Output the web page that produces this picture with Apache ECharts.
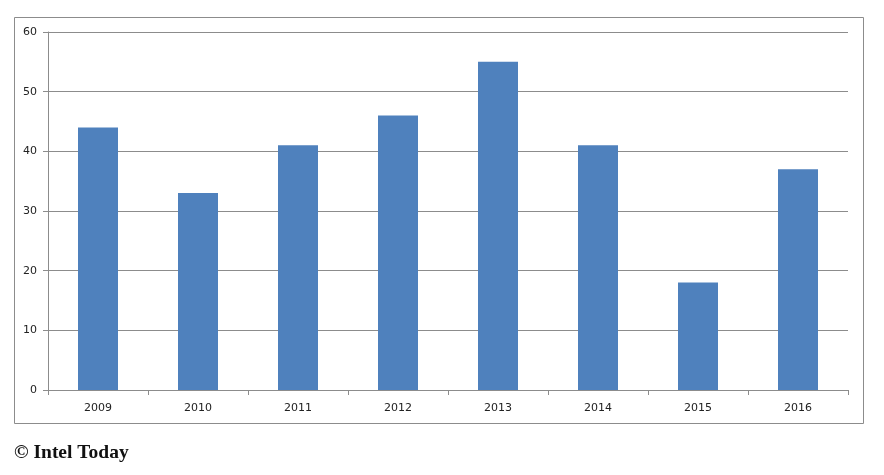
<!DOCTYPE html>
<html>
<head>
<meta charset="utf-8">
<script src="https://cdn.jsdelivr.net/npm/echarts@6/dist/echarts.min.js"></script>
<style>html,body{margin:0;padding:0;background:#fff;}#c{width:884px;height:475px;}</style>
</head>
<body>
<div id="c"></div>
<script>
var categories = ['2009','2010','2011','2012','2013','2014','2015','2016'];
var values = [44, 33, 41, 46, 55, 41, 18, 37];
var yTicks = [0, 10, 20, 30, 40, 50, 60];
var footer = '© Intel Today';

var chart = echarts.init(document.getElementById('c'), null, {renderer: 'canvas'});
chart.setOption({
  animation: false,
  backgroundColor: '#ffffff',
  graphic: [
    {type: 'rect', shape: {x: 14.5, y: 17.5, width: 849, height: 406}, style: {fill: 'none', stroke: '#8c8c8c', lineWidth: 1}, z: -1},
    {type: 'text', left: 14, top: 443, style: {text: footer, font: 'bold 19.5px "Liberation Serif", "Times New Roman", serif', fill: '#111'}}
  ],
  grid: {left: 48, right: 36, top: 32, bottom: 85, containLabel: false},
  xAxis: {
    type: 'category',
    data: categories,
    axisLine: {lineStyle: {color: '#8c8c8c'}},
    axisTick: {show: true, alignWithLabel: false, length: 5, lineStyle: {color: '#8c8c8c'}},
    axisLabel: {color: '#222', fontFamily: 'DejaVu Sans', fontSize: 11, margin: 13}
  },
  yAxis: {
    type: 'value',
    min: yTicks[0],
    max: yTicks[yTicks.length - 1],
    interval: 10,
    axisLine: {show: true, lineStyle: {color: '#8c8c8c'}},
    axisTick: {show: true, length: 5, lineStyle: {color: '#8c8c8c'}},
    axisLabel: {color: '#222', fontFamily: 'DejaVu Sans', fontSize: 11, margin: 11},
    splitLine: {lineStyle: {color: '#8c8c8c'}}
  },
  series: [{
    type: 'bar',
    data: values,
    barWidth: 40,
    itemStyle: {color: '#4f81bd'}
  }]
});
</script>
</body>
</html>
